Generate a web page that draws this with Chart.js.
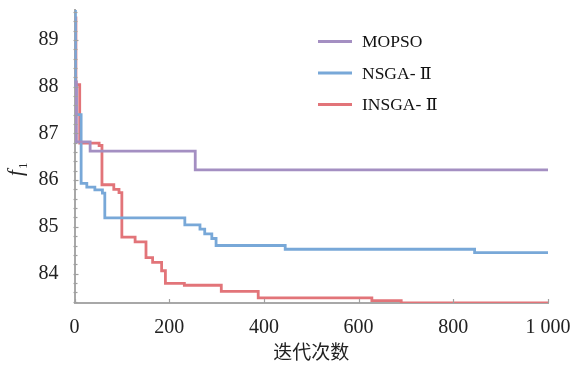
<!DOCTYPE html>
<html>
<head>
<meta charset="utf-8">
<script src="https://cdn.jsdelivr.net/npm/chart.js@4/dist/chart.umd.min.js"></script>
<style>
  html, body { margin: 0; padding: 0; background: #fff; }
  #wrap { width: 573px; height: 365px; }
</style>
</head>
<body>
<div id="wrap"><canvas id="convChart" width="573" height="365"></canvas></div>
<script>
// convergence of f1 over iterations, step curves
const seriesNames = ['MOPSO', 'NSGA- \u2161', 'INSGA- \u2161'];

const mopsoIter = [0, 4, 33, 255, 1000];
const mopsoF1   = [88.1, 86.82, 86.62, 86.22, 86.22];

const nsgaIter = [0, 2, 4, 14, 26, 43, 59, 64, 233, 265, 275, 290, 299, 445, 845, 1000];
const nsgaF1   = [89.62, 88.0, 87.4, 85.93, 85.85, 85.79, 85.72, 85.19, 85.04, 84.95, 84.85, 84.75, 84.6, 84.52, 84.45, 84.45];

const insgaIter = [0, 3, 11, 52, 58, 83, 94, 100, 128, 151, 165, 184, 192, 232, 310, 388, 628, 690, 1000];
const insgaF1   = [89.47, 88.04, 86.79, 86.74, 85.9, 85.8, 85.73, 84.78, 84.68, 84.34, 84.24, 84.06, 83.79, 83.75, 83.62, 83.48, 83.42, 83.37, 83.37];

const xTicks = [0, 200, 400, 600, 800, 1000];
const yTicks = [84, 85, 86, 87, 88, 89];

const colors = ['#a48fc2', '#78a8d8', '#e27479'];
const serif = '"Liberation Serif", "DejaVu Serif", "Noto Sans CJK SC", serif';

function toPoints(xs, ys) {
  return xs.map((x, i) => ({ x: x, y: ys[i] }));
}

// small inward ticks on both axes
const axisTicks = {
  id: 'axisTicks',
  afterDraw(chart) {
    const { ctx, scales: { x, y } } = chart;
    const left = x.getPixelForValue(0);
    const bottom = y.getPixelForValue(y.min);
    ctx.save();
    ctx.strokeStyle = '#a0a0a0';
    ctx.lineWidth = 1.2;
    for (let v = 83.4; v <= 89.61; v += 0.2) {
      const py = Math.round(y.getPixelForValue(v)) + 0.5;
      const major = Math.abs(v - Math.round(v)) < 1e-6;
      ctx.beginPath();
      ctx.moveTo(left - 1, py);
      ctx.lineTo(left + (major ? 4 : 3), py);
      ctx.stroke();
    }
    xTicks.forEach(v => {
      const px = Math.round(x.getPixelForValue(v)) + 0.5;
      ctx.beginPath();
      ctx.moveTo(px, bottom);
      ctx.lineTo(px, bottom - 4);
      ctx.stroke();
    });
    ctx.restore();
  }
};

// legend in the upper middle and the rotated f1 title
const labelsPlugin = {
  id: 'labelsPlugin',
  afterDraw(chart) {
    const ctx = chart.ctx;
    ctx.save();
    chart.data.datasets.forEach((ds, i) => {
      const cy = 41.5 + i * 31.5;
      ctx.strokeStyle = ds.borderColor;
      ctx.lineWidth = 3;
      ctx.beginPath();
      ctx.moveTo(318, cy);
      ctx.lineTo(352, cy);
      ctx.stroke();
      ctx.fillStyle = '#111';
      ctx.font = '17.5px ' + serif;
      ctx.textBaseline = 'middle';
      ctx.textAlign = 'left';
      ctx.fillText(ds.label, 362, cy + 1);
    });

    ctx.translate(22, 170);
    ctx.rotate(-Math.PI / 2);
    ctx.fillStyle = '#222';
    ctx.textBaseline = 'alphabetic';
    ctx.textAlign = 'left';
    ctx.font = 'italic 21px ' + serif;
    ctx.fillText('f', -6, 0);
    ctx.font = '13px ' + serif;
    ctx.fillText('1', 1, 5);
    ctx.restore();
  }
};

const datasets = [
  [mopsoIter, mopsoF1],
  [nsgaIter, nsgaF1],
  [insgaIter, insgaF1]
].map(([xs, ys], i) => ({
  label: seriesNames[i],
  data: toPoints(xs, ys),
  borderColor: colors[i],
  borderWidth: 2.8,
  stepped: 'before',
  pointRadius: 0,
  fill: false
}));

new Chart(document.getElementById('convChart'), {
  type: 'line',
  data: { datasets: datasets },
  options: {
    responsive: false,
    animation: false,
    layout: { padding: { top: 10, right: 25, left: 0, bottom: 0 } },
    plugins: {
      legend: { display: false },
      tooltip: { enabled: false }
    },
    scales: {
      x: {
        type: 'linear',
        min: 0,
        max: 1000,
        grid: { display: false },
        border: { color: '#a8a8a8', width: 2 },
        afterFit: s => {
          s.height = 62;
          s.paddingLeft = 0;
          s.paddingRight = 0;
        },
        afterBuildTicks: s => { s.ticks = xTicks.map(v => ({ value: v })); },
        ticks: {
          color: '#222',
          padding: 5,
          maxRotation: 0,
          font: { family: serif, size: 20 },
          callback: v => v >= 1000 ? String(v).replace(/(\d)(\d{3})$/, '$1 $2') : String(v)
        },
        title: {
          display: true,
          text: '迭代次数',
          color: '#222',
          padding: { top: 0, bottom: 2 },
          font: { family: '"Noto Sans CJK SC", serif', size: 19 }
        }
      },
      y: {
        type: 'linear',
        min: 83.37,
        max: 89.64,
        grid: { display: false },
        border: { color: '#a8a8a8', width: 2 },
        afterFit: s => {
          s.width = 74.5;
          s.paddingTop = 0;
          s.paddingBottom = 0;
        },
        afterBuildTicks: s => { s.ticks = yTicks.map(v => ({ value: v })); },
        ticks: {
          color: '#222',
          padding: 8,
          font: { family: serif, size: 20 }
        }
      }
    }
  },
  plugins: [axisTicks, labelsPlugin]
});
</script>
</body>
</html>
